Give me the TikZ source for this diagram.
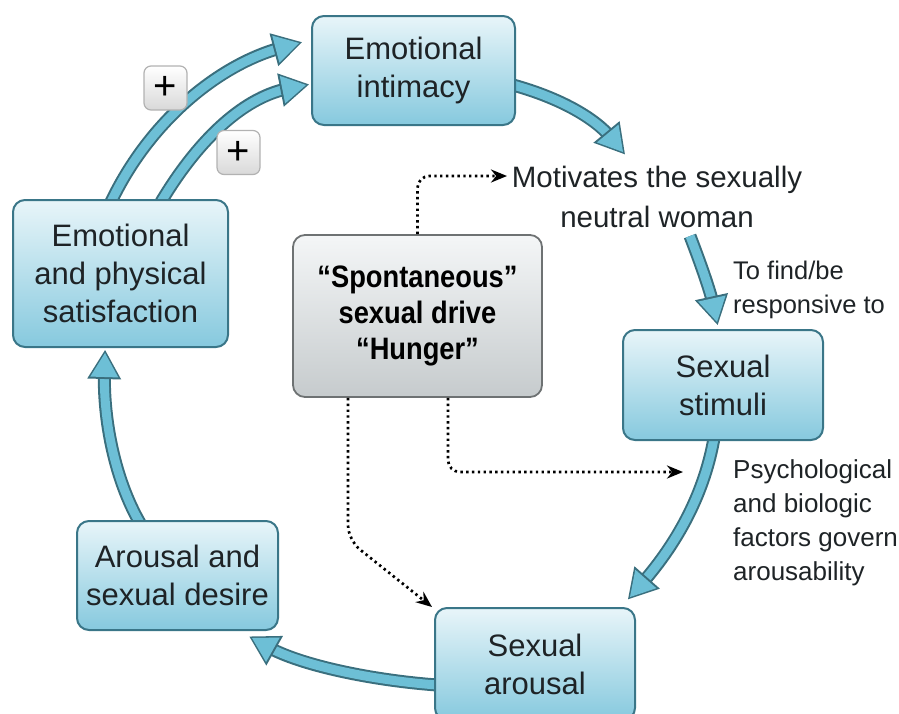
\documentclass[tikz,border=0pt]{standalone}
\usepackage{fontspec}
\setmainfont{Liberation Sans}
\newfontfamily\condbold{Liberation Sans}[FakeStretch=0.88]
\usetikzlibrary{arrows.meta,decorations.markings,backgrounds}
\definecolor{boxtop}{HTML}{E8F5F9}
\definecolor{boxbot}{HTML}{86C9DE}
\definecolor{boxline}{HTML}{3A7688}
\definecolor{arrfill}{HTML}{6DBFD6}
\definecolor{arrline}{HTML}{3A6F7E}
\definecolor{graytop}{HTML}{F4F6F7}
\definecolor{graybot}{HTML}{C6CBCD}
\definecolor{grayline}{HTML}{6E7273}
\definecolor{txt}{HTML}{1E2326}
\tikzset{
  bluebox/.style={draw=boxline, line width=2pt, rounded corners=12pt,
    top color=boxtop, bottom color=boxbot, align=center, text=txt,
    font=\fontsize{31}{38}\selectfont, inner sep=0pt},
  graybox/.style={draw=grayline, line width=1.8pt, rounded corners=12pt,
    top color=graytop, bottom color=graybot, align=center, text=black,
    font=\condbold\bfseries\fontsize{31}{36}\selectfont, inner sep=0pt},
  plusbox/.style={draw=gray!60, line width=1.2pt, rounded corners=7pt,
    top color=white, bottom color=gray!30, minimum width=43pt, minimum height=44pt,
    font=\fontsize{40}{40}\selectfont, inner sep=0pt},
  sidetext/.style={align=left, text=txt, font=\fontsize{25.5}{33.5}\selectfont, inner sep=0pt},
  dotarrow/.style={line width=2.7pt, dash pattern=on 2.4pt off 3.4pt, black,
    -{Stealth[length=16pt,width=13pt]}},
  shaftout/.style={line width=13pt, arrline, shorten >=18pt},
  shaftin/.style={line width=9pt, arrfill, shorten >=17pt},
  tipmark/.style={decorate, decoration={markings, mark=at position 1 with {
    \fill[arrline] (-26pt,-17pt) -- (3pt,0pt) -- (-26pt,17pt) -- cycle;
    \fill[arrfill] (-24pt,-14pt) -- (0pt,0pt) -- (-24pt,14pt) -- cycle;}}}
}
\newcommand\bigarr[1]{%
  \draw[shaftout] #1;
  \draw[shaftin] #1;
  \path[tipmark] #1;
}
\pgfdeclarelayer{bg}
\pgfsetlayers{bg,main}
\begin{document}
\begin{tikzpicture}[x=1pt,y=-1pt]
\useasboundingbox (0,0) rectangle (899,713);
\begin{scope}
\clip (0,0) rectangle (899,713);
% boxes
\node[bluebox, minimum width=203pt, minimum height=109pt] (intim) at (413.5,70.5) {Emotional\\intimacy};
\node[bluebox, minimum width=215pt, minimum height=147pt] (satisf) at (120.5,273.5) {Emotional\\and physical\\satisfaction};
\node[graybox, minimum width=249pt, minimum height=162pt] (spont) at (417.5,316) {“Spontaneous”\\sexual drive\\“Hunger”};
\node[bluebox, minimum width=200pt, minimum height=110pt] (stim) at (723,385) {Sexual\\stimuli};
\node[bluebox, minimum width=201pt, minimum height=109pt] (desire) at (177.5,575.5) {Arousal and\\sexual desire};
\node[bluebox, minimum width=200pt, minimum height=112pt] (arousal) at (535,664) {Sexual\\arousal};
% texts
\node[sidetext, align=center, font=\fontsize{29.5}{40}\selectfont, anchor=north] (motiv) at (657,166) {Motivates the sexually\\neutral woman};
\node[sidetext, anchor=north west] (tofind) at (733,261) {To find/be\\responsive to};
\node[sidetext, font=\fontsize{26}{34}\selectfont, anchor=north west] (psych) at (733,459) {Psychological\\and biologic\\factors govern\\arousability};
\node[plusbox] (plusA) at (165.5,88) {+};
\node[plusbox] (plusB) at (238.5,152.5) {+};
\coordinate (mtip) at (507,176);
\coordinate (mstart) at (690,236);
\coordinate (stiptop) at (717,322);
\coordinate (arstop) at (432,607);
\coordinate (stimleft) at (683,472);
\begin{pgfonlayer}{bg}
\bigarr{([xshift=99pt,yshift=-3pt]satisf.north west) .. controls (150,120) and (220,64) .. ([xshift=-12pt,yshift=27.5pt]intim.west)}
\bigarr{([xshift=149pt,yshift=-3pt]satisf.north west) .. controls (195,145) and (240,98) .. ([xshift=-5pt,yshift=-14.5pt]intim.west)}
\bigarr{([xshift=-3pt,yshift=-14.5pt]intim.east) .. controls (560,98) and (595,118) .. (623,152)}
\bigarr{(mstart) .. controls (700,262) and (710,290) .. (stiptop)}
\bigarr{([xshift=-9pt,yshift=3pt]stim.south) .. controls (705,490) and (680,540) .. (630,597)}
\bigarr{([xshift=3pt,yshift=-21pt]arousal.west) .. controls (370,680) and (300,665) .. (252,638)}
\bigarr{([xshift=-37.5pt,yshift=-3pt]desire.north) .. controls (115,480) and (103,420) .. ([xshift=-15.5pt,yshift=-5pt]satisf.south)}
\end{pgfonlayer}
% dotted arrows
\draw[dotarrow, rounded corners=12pt] (spont.north) |- (mtip);
\draw[dotarrow, rounded corners=15pt] ([xshift=-69.5pt]spont.south) -- (348,540) -- (arstop);
\draw[dotarrow, rounded corners=12pt] ([xshift=30.5pt]spont.south) |- (stimleft);
\end{scope}
\end{tikzpicture}
\end{document}
